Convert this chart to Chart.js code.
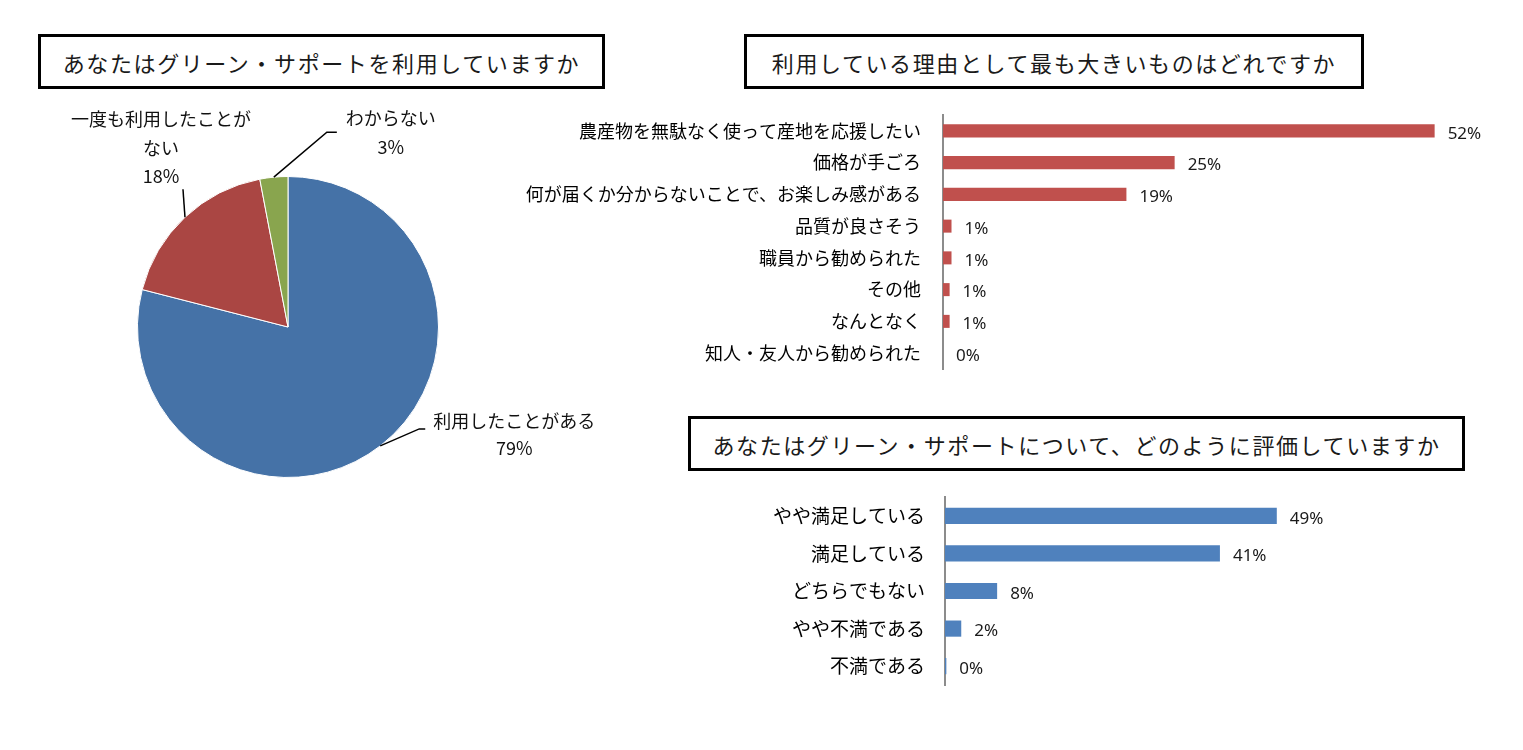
<!DOCTYPE html>
<html>
<head>
<meta charset="utf-8">
<script src="https://cdn.jsdelivr.net/npm/chart.js@4.4.0/dist/chart.umd.min.js"></script>
<style>
  body { margin: 0; background: #fff; width: 1523px; height: 750px; position: relative; overflow: hidden;
         font-family: "Noto Sans CJK JP", sans-serif; }
  .title { position: absolute; box-sizing: border-box; border: 3px solid #000; display: flex;
           align-items: center; justify-content: center; font-size: 22px; letter-spacing: 1.6px; color: #1a1a1a; }
  .wrap { position: absolute; }
</style>
</head>
<body>
<div class="title" style="left:38px;top:34px;width:567px;height:55px">あなたはグリーン・サポートを利用していますか</div>
<div class="title" style="left:744px;top:34px;width:620px;height:55px">利用している理由として最も大きいものはどれですか</div>
<div class="title" style="left:688px;top:416px;width:777px;height:55px">あなたはグリーン・サポートについて、どのように評価していますか</div>

<div class="wrap" style="left:40px;top:100px"><canvas id="pie" width="600" height="400"></canvas></div>
<div class="wrap" style="left:500px;top:110px"><canvas id="reason" width="1000" height="265"></canvas></div>
<div class="wrap" style="left:500px;top:490px"><canvas id="rating" width="1000" height="200"></canvas></div>

<script>
// ---- data ----
const useLabels = [["利用したことがある"], ["一度も利用したことが", "ない"], ["わからない"]];
const useValues = [79, 18, 3];
const useColors = ["#4572A7", "#AA4643", "#89A54E"];

const reasonLabels = ["農産物を無駄なく使って産地を応援したい", "価格が手ごろ", "何が届くか分からないことで、お楽しみ感がある",
  "品質が良さそう", "職員から勧められた", "その他", "なんとなく", "知人・友人から勧められた"];
const reasonValues = [52, 24.5, 19.4, 0.9, 0.9, 0.7, 0.7, 0];

const ratingLabels = ["やや満足している", "満足している", "どちらでもない", "やや不満である", "不満である"];
const ratingValues = [49, 40.6, 7.7, 2.4, 0.2];

const JP = '"Noto Sans CJK JP", sans-serif';

// pie label placement, relative to the slice's outer edge at mid angle
const pieLabelPos = [
  { elbow: [39, -17], tail: 6, text: [134, -25], lh: 27 },
  { elbow: [-2, -28], tail: 0, text: [-24, -98], lh: 28.5 },
  { elbow: [53, -45], tail: 10, text: [117, -59], lh: 29 },
];

const pieLabels = {
  id: "pieLabels",
  afterDatasetsDraw(chart) {
    const ctx = chart.ctx;
    const arcs = chart.getDatasetMeta(0).data;
    ctx.save();
    ctx.font = "18px " + JP;
    ctx.fillStyle = "#111";
    ctx.strokeStyle = "#000";
    ctx.lineWidth = 1.5;
    ctx.textAlign = "center";
    ctx.textBaseline = "middle";
    arcs.forEach((arc, i) => {
      const p = pieLabelPos[i];
      const mid = (arc.startAngle + arc.endAngle) / 2;
      const ex = arc.x + Math.cos(mid) * arc.outerRadius;
      const ey = arc.y + Math.sin(mid) * arc.outerRadius;
      const bx = ex + p.elbow[0], by = ey + p.elbow[1];
      ctx.beginPath();
      ctx.moveTo(ex, ey);
      ctx.lineTo(bx, by);
      ctx.lineTo(bx + p.tail, by);
      ctx.stroke();
      const lines = useLabels[i].concat([useValues[i] + "%"]);
      lines.forEach((t, k) => ctx.fillText(t, ex + p.text[0], ey + p.text[1] + k * p.lh));
    });
    ctx.restore();
  }
};

new Chart(document.getElementById("pie"), {
  type: "pie",
  data: {
    labels: useLabels.map(l => l.join("")),
    datasets: [{ data: useValues, backgroundColor: useColors, borderColor: "#fff", borderWidth: 1 }]
  },
  options: {
    responsive: false,
    animation: false,
    layout: { padding: { left: 97, top: 76, right: 201, bottom: 22 } },
    plugins: { legend: { display: false }, tooltip: { enabled: false } }
  },
  plugins: [pieLabels]
});

const barLabels = {
  id: "barLabels",
  afterDatasetsDraw(chart) {
    const ctx = chart.ctx;
    const vals = chart.data.datasets[0].data;
    ctx.save();
    ctx.font = "17px 'Noto Sans', sans-serif";
    ctx.fillStyle = "#1a1a1a";
    ctx.textAlign = "left";
    ctx.textBaseline = "middle";
    chart.getDatasetMeta(0).data.forEach((bar, i) => {
      ctx.fillText(Math.round(vals[i]) + "%", bar.x + 13, bar.y + 3);
    });
    ctx.restore();
  }
};

function hbar(id, labels, values, color, axisWidth, max, pad, thick, fontSize, tickPad) {
  return new Chart(document.getElementById(id), {
    type: "bar",
    data: { labels: labels, datasets: [{ data: values, backgroundColor: color, barPercentage: thick, categoryPercentage: 1 }] },
    options: {
      indexAxis: "y",
      responsive: false,
      animation: false,
      layout: { padding: pad },
      scales: {
        x: { display: false, min: 0, max: max },
        y: {
          afterFit(scale) {
            scale.width = axisWidth;
            scale.paddingTop = 0;
            scale.paddingBottom = 0;
          },
          grid: { display: false, drawTicks: false },
          border: { display: true, color: "#8c8c8c", width: 2 },
          ticks: { color: "#000", padding: tickPad, font: { family: JP, size: fontSize } }
        }
      },
      plugins: { legend: { display: false }, tooltip: { enabled: false } }
    },
    plugins: [barLabels]
  });
}

hbar("reason", reasonLabels, reasonValues, "#C0504D", 443, 55, { top: 5, bottom: 6, right: 37 }, 0.41, 18, 22);
hbar("rating", ratingLabels, ratingValues, "#4F81BD", 445, 70, { top: 7, bottom: 5, right: 81 }, 0.43, 19, 20);
</script>
</body>
</html>
